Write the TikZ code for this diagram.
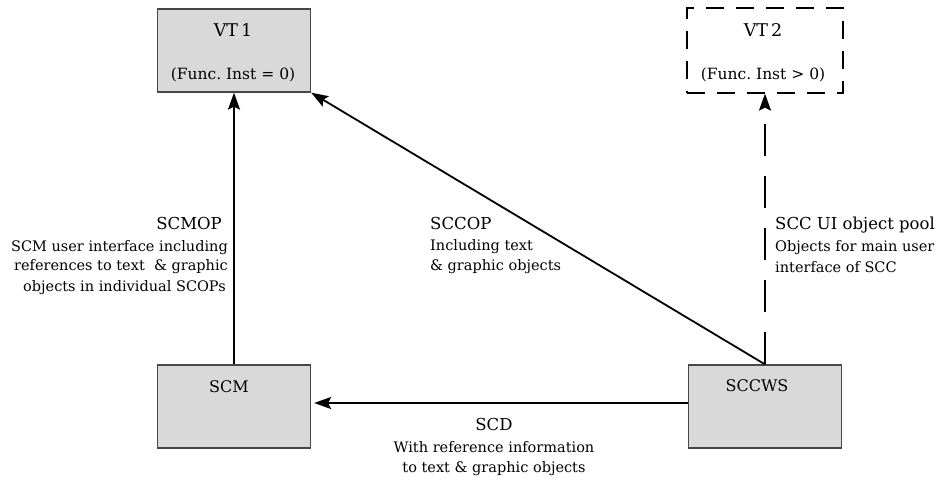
\documentclass[tikz,border=0pt]{standalone}
\usepackage{fontspec}
\setmainfont{DejaVu Serif}
\usetikzlibrary{arrows.meta}
\begin{document}
\begin{tikzpicture}[x=1pt,y=-1pt,
  box/.style={draw=black!72, fill=black!15, line width=1.3pt,
    minimum width=153pt, minimum height=83pt, inner sep=0pt},
  dbox/.style={draw=black, line width=1.2pt, dash pattern=on 18pt off 12pt,
    minimum width=156pt, minimum height=85pt, inner sep=0pt},
  link/.style={line width=1.8pt, -{Stealth[length=17pt,width=12pt,inset=3pt]}},
  dlink/.style={link, dash pattern=on 32pt off 20pt},
  boxname/.style={font=\fontsize{17.5}{21}\selectfont, inner sep=0pt, anchor=base},
  boxtext/.style={font=\fontsize{15.5}{19}\selectfont, inner sep=0pt, anchor=base},
  title/.style={font=\fontsize{16.5}{20}\selectfont, inner sep=0pt},
  body/.style={font=\fontsize{14.5}{18}\selectfont, inner sep=0pt},
]
\useasboundingbox (0,0) rectangle (939,479);

% boxes
\node[box]  (vt1)   at (234,50.5)  {};
\node[dbox] (vt2)   at (765,50.5)  {};
\node[box]  (scm)   at (234,406.5) {};
\node[box]  (sccws) at (765,406.5) {};

% box captions
\node[boxname] (vt1name)  at (233,36)  {VT\,1};
\node[boxtext] (vt1note)  at (233,79)  {(Func.\ Inst = 0)};
\node[boxname] (vt2name)  at (763,36)  {VT\,2};
\node[boxtext] (vt2note)  at (763,79)  {(Func.\ Inst > 0)};
\node[boxtext, font=\fontsize{16}{19}\selectfont] (scmname)  at (229,392) {SCM};
\node[boxtext, font=\fontsize{16}{19}\selectfont] (sccwsname) at (757,391) {SCCWS};

% connectors
\draw[link]  (scm.north) -- (vt1.south);
\draw[link]  (sccws.north) -- (vt1.south east);
\draw[dlink] (sccws.north) -- (vt2.south);
\draw[link]  ([yshift=3.5pt]sccws.west) -- ([xshift=3pt,yshift=3.5pt]scm.east);

% SCMOP label
\node[title, anchor=base east] (scmopt) at (222,229) {SCMOP};
\node[body, anchor=base east] (scmop1) at (228,251) {SCM user interface including};
\node[body, anchor=base east] (scmop2) at (228,270) {references to text \ \& graphic};
\node[body, anchor=base east] (scmop3) at (226,291) {objects in individual SCOPs};

% SCCOP label
\node[title, anchor=base west] (sccopt) at (430,229) {SCCOP};
\node[body, anchor=base west] (sccop1) at (430,250) {Including text};
\node[body, anchor=base west] (sccop2) at (430,270) {\& graphic objects};

% SCC UI object pool label
\node[title, anchor=base west] (poolt) at (775,229) {SCC UI object pool};
\node[body, anchor=base west] (pool1) at (775,251) {Objects for main user};
\node[body, anchor=base west] (pool2) at (775,272) {interface of SCC};

% SCD label
\node[title, anchor=base] (scdt) at (494,430) {SCD};
\node[body, anchor=base] (scd1) at (494,452) {With reference information};
\node[body, anchor=base] (scd2) at (494,472) {to text \& graphic objects};
\end{tikzpicture}
\end{document}
